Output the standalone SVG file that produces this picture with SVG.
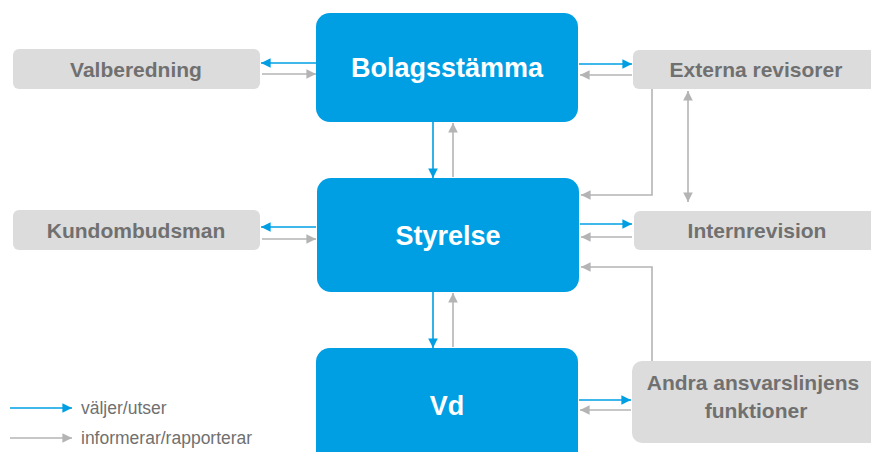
<svg xmlns="http://www.w3.org/2000/svg" width="871" height="452" viewBox="0 0 871 452">
<style>
.main{fill:#009FE3}
.side{fill:#DCDCDC}
.mt{font-family:"Liberation Sans",Arial,sans-serif;font-weight:bold;font-size:27px;fill:#FFFFFF;text-anchor:middle}
.st{font-family:"Liberation Sans",Arial,sans-serif;font-weight:bold;font-size:21px;fill:#707070;text-anchor:middle}
.lt{font-family:"Liberation Sans",Arial,sans-serif;font-size:17.5px;fill:#707070}
.b{stroke:#009FE3;stroke-width:1.6;fill:none;marker-end:url(#ab)}
.g{stroke:#B4B4B4;stroke-width:1.6;fill:none;marker-end:url(#ag)}
</style>
<defs>
<marker id="ab" viewBox="0 0 10 10" refX="10" refY="5" markerWidth="6" markerHeight="6" orient="auto" markerUnits="strokeWidth"><path d="M0,0 L10,5 L0,10 z" fill="#009FE3"/></marker>
<marker id="ag" viewBox="0 0 10 10" refX="10" refY="5" markerWidth="6" markerHeight="6" orient="auto" markerUnits="strokeWidth"><path d="M0,0 L10,5 L0,10 z" fill="#B4B4B4"/></marker>
<marker id="ags" viewBox="0 0 10 10" refX="0" refY="5" markerWidth="6" markerHeight="6" orient="auto" markerUnits="strokeWidth"><path d="M10,0 L0,5 L10,10 z" fill="#B4B4B4"/></marker>
</defs>
<g id="bolagsstamma"><rect class="main" x="316" y="13" width="262" height="109" rx="14"/><text class="mt" x="447" y="77">Bolagsstämma</text></g>
<g id="styrelse"><rect class="main" x="317" y="178" width="262" height="114" rx="14"/><text class="mt" x="448" y="245">Styrelse</text></g>
<g id="vd"><rect class="main" x="316" y="348" width="262" height="120" rx="14"/><text class="mt" x="447" y="415">Vd</text></g>
<g id="valberedning"><rect class="side" x="13" y="49" width="247" height="40" rx="6"/><text class="st" x="136" y="77">Valberedning</text></g>
<g id="kundombudsman"><rect class="side" x="13" y="210" width="247" height="40" rx="6"/><text class="st" x="136" y="238">Kundombudsman</text></g>
<g id="externa"><rect class="side" x="633" y="50" width="250" height="39" rx="6"/><text class="st" x="756" y="77">Externa revisorer</text></g>
<g id="internrevision"><rect class="side" x="634" y="211" width="250" height="39" rx="6"/><text class="st" x="757" y="238">Internrevision</text></g>
<g id="andra"><rect class="side" x="632" y="361" width="250" height="82" rx="10"/><text class="st" x="753" y="390">Andra ansvarslinjens</text><text class="st" x="756" y="418">funktioner</text></g>
<g id="connectors">
<line class="b" x1="316" y1="63" x2="261" y2="63"/>
<line class="g" x1="262" y1="74" x2="316" y2="74"/>
<line class="b" x1="316" y1="227" x2="261" y2="227"/>
<line class="g" x1="262" y1="239" x2="316" y2="239"/>
<line class="b" x1="579" y1="64" x2="632" y2="64"/>
<line class="g" x1="632" y1="75" x2="580" y2="75"/>
<line class="b" x1="580" y1="224" x2="632" y2="224"/>
<line class="g" x1="632" y1="237" x2="581" y2="237"/>
<line class="b" x1="579" y1="400" x2="631" y2="400"/>
<line class="g" x1="631" y1="410" x2="580" y2="410"/>
<line class="b" x1="433" y1="122" x2="433" y2="178"/>
<line class="g" x1="453" y1="177" x2="453" y2="123"/>
<line class="b" x1="433" y1="292" x2="433" y2="348"/>
<line class="g" x1="453" y1="347" x2="453" y2="293"/>
<polyline class="g" points="652,89 652,195 581,195"/>
<polyline class="g" points="652,361 652,267 581,267"/>
<line class="g" x1="688" y1="91" x2="688" y2="202" style="marker-start:url(#ags)"/>
<line class="b" x1="10" y1="408" x2="72" y2="408"/>
<line class="g" x1="10" y1="438" x2="72" y2="438"/>
</g>
<text class="lt" x="81" y="414">väljer/utser</text>
<text class="lt" x="81" y="444">informerar/rapporterar</text>
</svg>
